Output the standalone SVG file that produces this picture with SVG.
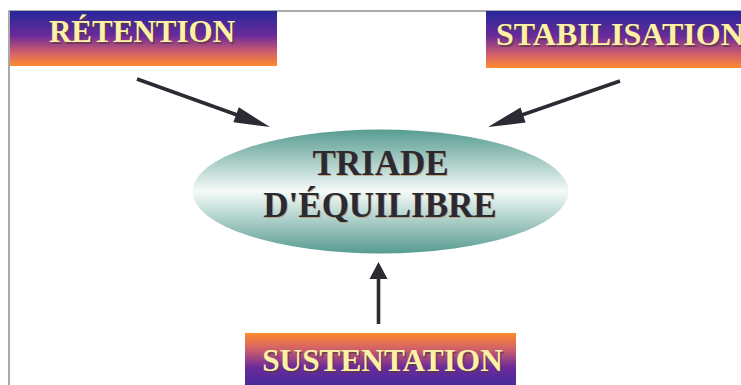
<svg xmlns="http://www.w3.org/2000/svg" width="741" height="385" viewBox="0 0 741 385">
<defs>
<linearGradient id="gTop" x1="0" y1="0" x2="0" y2="1">
<stop offset="0" stop-color="#25289a"/>
<stop offset="0.45" stop-color="#6c2a9a"/>
<stop offset="0.75" stop-color="#cf5f6c"/>
<stop offset="1" stop-color="#ff8b2c"/>
</linearGradient>
<linearGradient id="gBot" gradientUnits="userSpaceOnUse" x1="0" y1="333" x2="0" y2="392">
<stop offset="0" stop-color="#ff8b2c"/>
<stop offset="0.28" stop-color="#cf5f6c"/>
<stop offset="0.58" stop-color="#6c2a9a"/>
<stop offset="1" stop-color="#3a2a9a"/>
</linearGradient>
<linearGradient id="gEll" x1="0" y1="0" x2="0" y2="1">
<stop offset="0" stop-color="#579c91"/>
<stop offset="0.5" stop-color="#f4faf8"/>
<stop offset="1" stop-color="#579c91"/>
</linearGradient>
<style>
.lbl{font-family:"Liberation Serif","Times New Roman",serif;font-weight:bold;}
.cream{fill:#fdf1a6;}
.shd{fill:#5a3a40;opacity:0.7;}
.dark{fill:#2a2a34;}
.dshd{fill:#c4844e;opacity:0.6;}
.conn{stroke:#2a2b33;stroke-width:3.6;fill:none;}
.head{fill:#2a2b33;}
.frame{stroke:#8e8e8e;stroke-width:1.5;fill:none;}
</style>
</defs>
<rect x="0" y="0" width="741" height="385" fill="#ffffff"/>
<path class="frame" d="M9,385 V11 H741"/>

<g id="retention">
<rect x="10" y="11" width="267" height="55" fill="url(#gTop)"/>
<text class="lbl shd" x="143.5" y="43.5" font-size="31" text-anchor="middle">RÉTENTION</text>
<text class="lbl cream" x="142" y="42" font-size="31" text-anchor="middle">RÉTENTION</text>
</g>

<g id="stabilisation">
<rect x="486" y="11" width="256" height="57" fill="url(#gTop)"/>
<text class="lbl shd" x="497.5" y="46.5" font-size="32">STABILISATION</text>
<text class="lbl cream" x="496" y="45" font-size="32">STABILISATION</text>
</g>

<g id="triade">
<ellipse cx="380.5" cy="191.5" rx="188" ry="62" fill="url(#gEll)"/>
<text class="lbl dshd" x="381.5" y="176" font-size="35" text-anchor="middle">TRIADE</text>
<text class="lbl dark" x="380.5" y="175" font-size="35" text-anchor="middle">TRIADE</text>
<text class="lbl dshd" x="381" y="218" font-size="35" text-anchor="middle">D'ÉQUILIBRE</text>
<text class="lbl dark" x="380" y="217" font-size="35" text-anchor="middle">D'ÉQUILIBRE</text>
</g>

<g id="sustentation">
<rect x="245" y="333" width="271" height="56" fill="url(#gBot)"/>
<text class="lbl shd" x="384" y="372.5" font-size="31.3" text-anchor="middle">SUSTENTATION</text>
<text class="lbl cream" x="382.5" y="371" font-size="31.3" text-anchor="middle">SUSTENTATION</text>
</g>

<g id="connectors">
<path class="conn" d="M137,79 L240,116"/>
<polygon class="head" points="270,127 238.8,107.3 233.4,122.3"/>
<path class="conn" d="M620,81 L519,116"/>
<polygon class="head" points="488,127 520.5,107.4 525.6,122.6"/>
<path class="conn" d="M378.5,324 V276"/>
<polygon class="head" points="378.5,262 369.5,279 387.5,279"/>
</g>
</svg>
